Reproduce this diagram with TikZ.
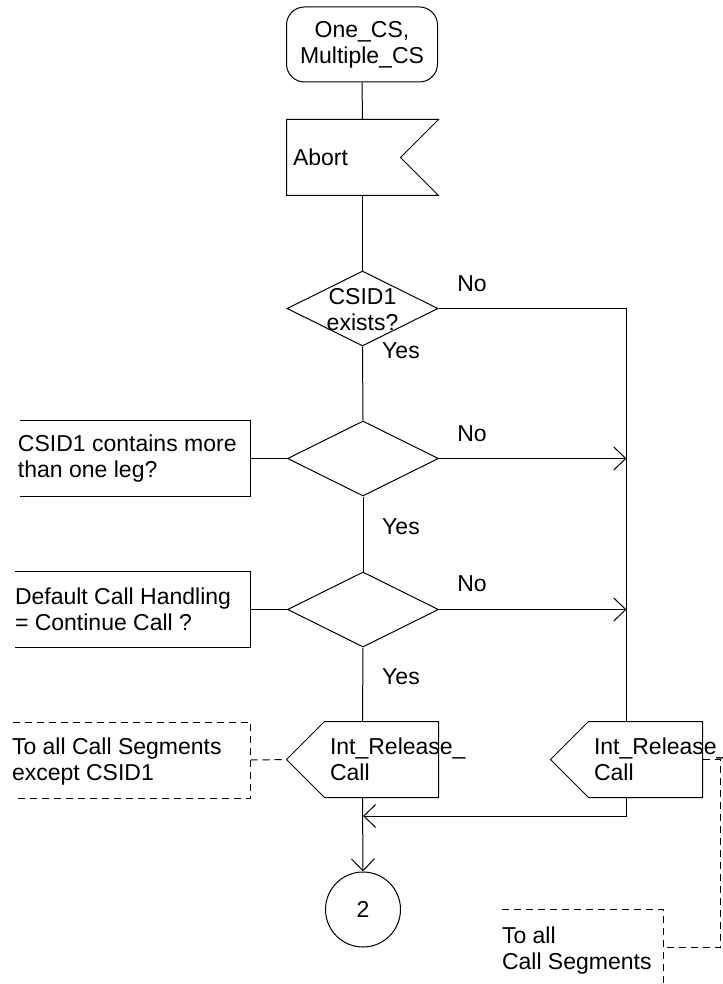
\documentclass[tikz,border=0pt]{standalone}
\usepackage{fontspec}
\setmainfont{Liberation Sans}
\usepackage{tikz}
\usetikzlibrary{shapes.geometric,arrows.meta}

\begin{document}
\begin{tikzpicture}[x=0.5pt,y=-0.5pt,line width=0.5pt,
  every node/.style={font=\fontsize{11.5}{13}\selectfont},
  >={Straight Barb[length=6pt,width=11.5pt]},
  box/.style={minimum width=75.5pt,minimum height=37.5pt,inner sep=0pt},
  dec/.style={draw,diamond,minimum width=75.5pt,minimum height=37.5pt,inner sep=0pt},
  txt/.style={anchor=west,align=left,inner sep=0pt},
  cmtdash/.style={dash pattern=on 3.5pt off 2.5pt}]
\useasboundingbox (0,0) rectangle (722,984);
\node[box,draw,rounded corners=9pt,align=center] (st) at (362,44.5) {One\_CS,\\Multiple\_CS};
\node[box] (ab) at (362.5,157.5) {};
\draw (ab.north west) -- (ab.north east) -- ([xshift=-19pt]ab.east) -- (ab.south east) -- (ab.south west) -- cycle;
\node[txt] (abt) at ([xshift=3pt]ab.west) {Abort};
\node[dec] (d1) at (362.5,308.5) {};
\node[align=center,inner sep=0pt] (d1t) at (362.5,310) {CSID1\\exists?};
\node[dec] (d2) at (363,458.5) {};
\node[dec] (d3) at (363,609.5) {};
\node[box,minimum width=115pt] (c1) at (135,458.5) {};
\draw (c1.north west) -- (c1.north east) -- (c1.south east) -- (c1.south west);
\node[txt] (c1t) at ([xshift=-1pt]c1.west) {CSID1 contains more\\than one leg?};
\node[box,minimum width=117.5pt] (c2) at (132.5,609.5) {};
\draw (c2.north west) -- (c2.north east) -- (c2.south east) -- (c2.south west);
\node[txt] (c2t) at (c2.west) {Default Call Handling\\= Continue Call ?};
\node[box] (out1) at (362.5,759.5) {};
\draw (out1.west) -- ([xshift=19pt]out1.north west) -- (out1.north east) -- (out1.south east) -- ([xshift=19pt]out1.south west) -- cycle;
\node[txt] (o1t) at ([xshift=21.5pt]out1.west) {Int\_Release\_\\Call};
\node[box] (out2) at (626.5,759.5) {};
\draw (out2.west) -- ([xshift=19pt]out2.north west) -- (out2.north east) -- (out2.south east) -- ([xshift=19pt]out2.south west) -- cycle;
\node[txt] (o2t) at ([xshift=21.5pt]out2.west) {Int\_Release\_\\Call};
\node[box,minimum width=118.5pt] (c3) at (131.5,760) {};
\draw[cmtdash] (c3.north west) -- (c3.north east) -- (c3.south east) -- (c3.south west);
\node[txt] (c3t) at ([xshift=-0.5pt,yshift=-1pt]c3.west) {To all Call Segments\\except CSID1};
\node[box,minimum width=80.5pt,minimum height=37pt] (c4) at (582.5,947) {};
\draw[cmtdash] (c4.north west) -- (c4.north east) -- ([yshift=-2pt]c4.south east);
\node[txt] (c4t) at ([yshift=-2pt]c4.west) {To all\\Call Segments};
\node[draw,circle,minimum size=37.5pt,inner sep=0pt] (cir) at (363,909.5) {2};
\coordinate (mg) at (363,816);
\node (no1) at (472,284) {No};
\node (yes1) at (401,351) {Yes};
\node (no2) at (472,434) {No};
\node (yes2) at (401,527) {Yes};
\node (no3) at (472,584) {No};
\node (yes3) at (401,677) {Yes};
\draw (st.south) -- (ab.north);
\draw (ab.south) -- (d1.north);
\draw (d1.south) -- (d2.north);
\draw (d2.south) -- (d3.north);
\draw (d3.south) -- (out1.north);
\draw (d1.east) -| (out2.north);
\draw[->] (d2.east) -- (d2.east -| out2.north);
\draw[->] (d3.east) -- (d3.east -| out2.north);
\draw (c1.east) -- (d2.west);
\draw (c2.east) -- (d3.west);
\draw[->] (out2.south) |- (mg);
\draw[->] (out1.south) -- (cir.north);
\draw[cmtdash] (c3.east) -- (out1.west);
\draw[cmtdash] (out2.east) -- ++(18,0) |- (c4.east);
\end{tikzpicture}
\end{document}
